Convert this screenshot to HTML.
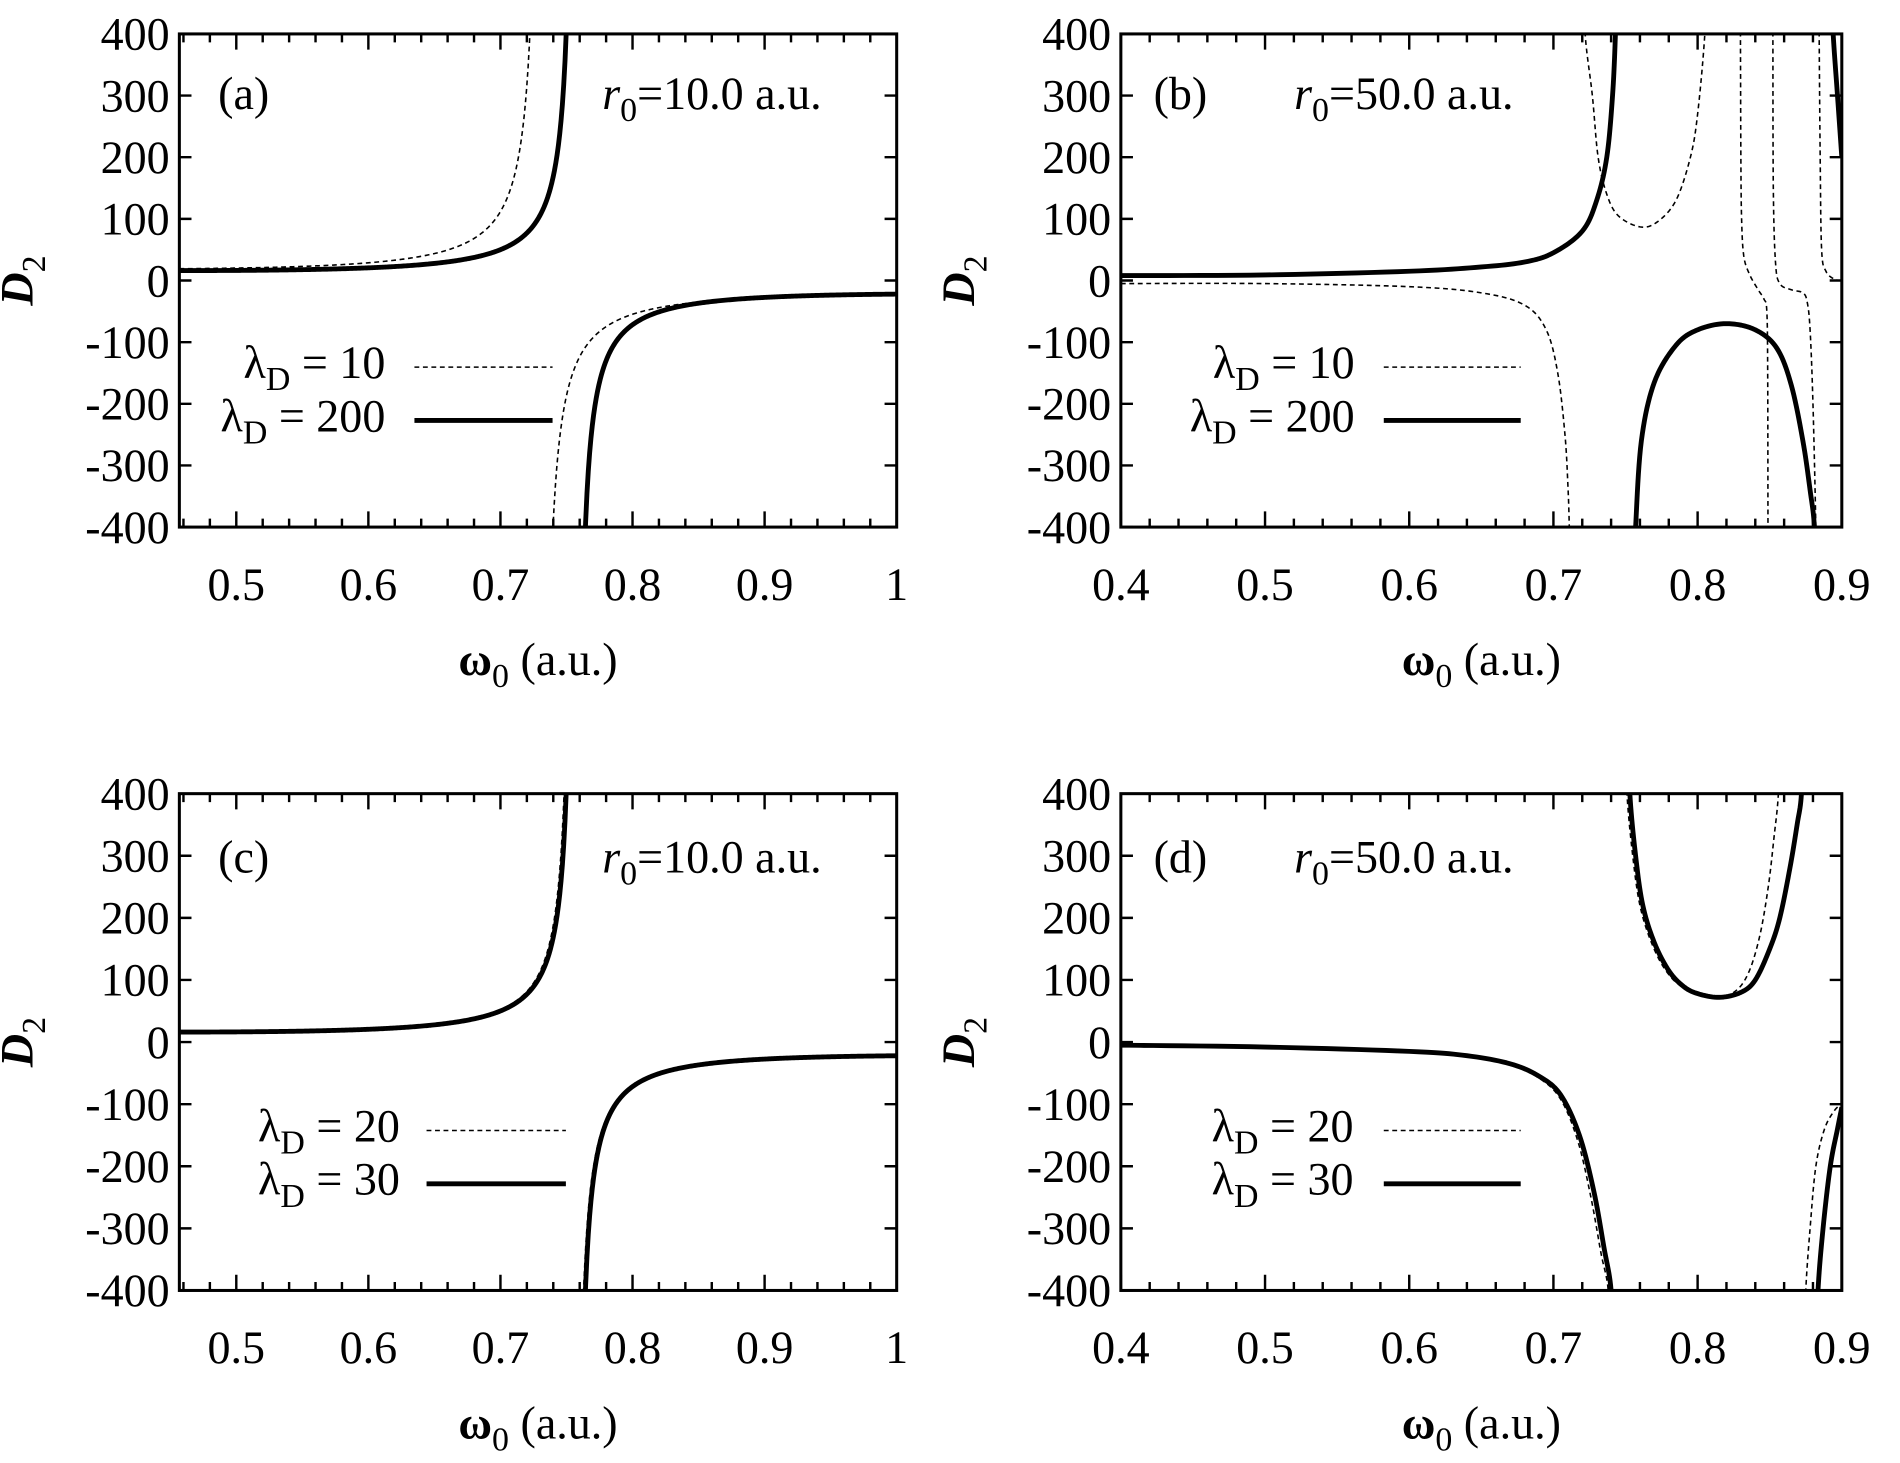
<!DOCTYPE html>
<html><head><meta charset="utf-8"><style>
html,body{margin:0;padding:0;background:#fff;}
svg{display:block;}
text{font-family:"Liberation Serif","Times New Roman",serif;fill:#000;}
</style></head><body>
<svg id="s" width="1900" height="1463" viewBox="0 0 1568 1207.4" xmlns="http://www.w3.org/2000/svg" font-family="Liberation Serif, serif">
<defs>
<clipPath id="ca"><rect x="148" y="28" width="592" height="407"/></clipPath>
<clipPath id="cb"><rect x="925" y="28" width="595" height="407"/></clipPath>
<clipPath id="cc"><rect x="148" y="655" width="592" height="410"/></clipPath>
<clipPath id="cd"><rect x="925" y="655" width="595" height="410"/></clipPath>
</defs>
<g id="g"></g>
</svg>
<script>
var NS="http://www.w3.org/2000/svg",G=document.getElementById('g');
var FS=38,SS=28;
function el(t,a,txt,par){var e=document.createElementNS(NS,t);for(var k in a)e.setAttribute(k,a[k]);if(txt!=null)e.textContent=txt;(par||G).appendChild(e);return e;}
var P={
 a:{L:148,R:740,T:28,B:435,x0:0.4569,x1:1,maj:[0.5,0.6,0.7,0.8,0.9,1],lab:['0.5','0.6','0.7','0.8','0.9','1'],clip:'ca'},
 b:{L:925,R:1520,T:28,B:435,x0:0.4,x1:0.9,maj:[0.4,0.5,0.6,0.7,0.8,0.9],lab:['0.4','0.5','0.6','0.7','0.8','0.9'],clip:'cb'},
 c:{L:148,R:740,T:655,B:1065,x0:0.4569,x1:1,maj:[0.5,0.6,0.7,0.8,0.9,1],lab:['0.5','0.6','0.7','0.8','0.9','1'],clip:'cc'},
 d:{L:925,R:1520,T:655,B:1065,x0:0.4,x1:0.9,maj:[0.4,0.5,0.6,0.7,0.8,0.9],lab:['0.4','0.5','0.6','0.7','0.8','0.9'],clip:'cd'}
};
function X(p,x){return p.L+(x-p.x0)/(p.x1-p.x0)*(p.R-p.L);}
function Y(p,y){return p.B-(y+400)/800*(p.B-p.T);}
function axes(p){
 var s='';
 for(var v=-400;v<=400;v+=100){var y=Y(p,v);s+='M'+p.L+' '+y+'h10M'+p.R+' '+y+'h-10';
  el('text',{x:p.L-8,y:y+13,'font-size':FS,'text-anchor':'end'},String(v));}
 for(var i=0;i<=60;i++){var xv=Math.round((0.4+i*0.02)*1000)/1000;if(xv<p.x0-1e-6||xv>p.x1+1e-6)continue;
  var x=X(p,xv);var mj=p.maj.some(function(m){return Math.abs(m-xv)<1e-6;});var l=mj?13:7;
  s+='M'+x+' '+p.B+'v-'+l+'M'+x+' '+p.T+'v'+l;}
 el('path',{d:s,stroke:'#000','stroke-width':2,fill:'none'});
 el('rect',{x:p.L,y:p.T,width:p.R-p.L,height:p.B-p.T,fill:'none',stroke:'#000','stroke-width':2.5});
 p.maj.forEach(function(m,i){el('text',{x:X(p,m),y:p.B+60,'font-size':FS,'text-anchor':'middle'},p.lab[i]);});
 var t=el('text',{x:(p.L+p.R)/2,y:p.B+122,'font-size':FS,'text-anchor':'middle'});
 el('tspan',{'font-weight':'bold'},'ω',t);el('tspan',{dy:10,'font-size':SS},'0',t);el('tspan',{dy:-10},' (a.u.)',t);
 var yl=p.L-121,yc=(p.T+p.B)/2;
 var t2=el('text',{x:0,y:0,'font-size':FS,'font-style':'italic','font-weight':'bold',transform:'translate('+yl+','+yc+') rotate(-90)','text-anchor':'middle'});
 el('tspan',{},'D',t2);el('tspan',{dy:10,'font-size':SS,'font-style':'normal','font-weight':'normal'},'2',t2);
}
function pathFromPts(p,pts){var s='';pts.forEach(function(q,i){s+=(i?'L':'M')+X(p,q[0]).toFixed(2)+' '+Y(p,Math.max(-600,Math.min(600,q[1]))).toFixed(2);});return s;}
function smooth(pts){var out=[];for(var i=0;i<pts.length-1;i++){var p0=pts[Math.max(0,i-1)],p1=pts[i],p2=pts[i+1],p3=pts[Math.min(pts.length-1,i+2)];
 for(var t=0;t<1;t+=0.1){var t2=t*t,t3=t2*t;var f=function(k){return 0.5*((2*p1[k])+(-p0[k]+p2[k])*t+(2*p0[k]-5*p1[k]+4*p2[k]-p3[k])*t2+(-p0[k]+3*p1[k]-3*p2[k]+p3[k])*t3);};out.push([f(0),f(1)]);}}
 out.push(pts[pts.length-1]);return out;}
function draw(p,segs,thick){var d='';segs.forEach(function(sg){d+=pathFromPts(p,sg);});
 var a={d:d,fill:'none',stroke:'#000','clip-path':'url(#'+p.clip+')','stroke-linejoin':'round'};
 if(thick){a['stroke-width']=4;}else{a['stroke-width']=1.3;a['stroke-dasharray']='4,3';}
 el('path',a);}
function f(x,k,pole){return 20.2-30.3*x+k/(pole-x);}
function model(p,k,pole){var A=[],B=[];
 for(var x=p.x0;x<pole-0.0015;x+=0.001)A.push([x,f(x,k,pole)]);
 for(var x=pole+0.0015;x<=p.x1+0.0005;x+=0.001)B.push([x,f(x,k,pole)]);
 var a2=[],b2=[];for(var e=0.0015;e>0.0001;e-=0.0002){a2.push([pole-e,f(pole-e,k,pole)]);b2.unshift([pole+e,f(pole+e,k,pole)]);}
 return [A.concat(a2),b2.concat(B)];}
['a','b','c','d'].forEach(function(k){axes(P[k]);});
draw(P.a,model(P.a,3.5,0.731),false);
draw(P.a,model(P.a,2.91,0.757),true);
draw(P.c,model(P.c,2.95,0.7555),false);
draw(P.c,model(P.c,2.91,0.757),true);
var bT=[[[0.4,8],[0.5,9],[0.6,15],[0.65,22],[0.68,30],[0.7,45],[0.72,80],[0.73,130],[0.737,200],[0.741,300],[0.743,400],[0.744,500]],
 [[0.7555,-500],[0.757,-400],[0.761,-260],[0.77,-165],[0.785,-105],[0.80,-80],[0.82,-70],[0.84,-80],[0.855,-110],[0.865,-170],[0.873,-260],[0.878,-340],[0.881,-400],[0.882,-500]],
 [[0.892,500],[0.894,400],[0.897,300],[0.9,200]]];
var bD=[[[0.4,-5],[0.5,-5],[0.6,-10],[0.65,-20],[0.68,-40],[0.695,-80],[0.703,-150],[0.708,-250],[0.71,-330],[0.711,-400],[0.7115,-500]],
 [[0.7215,500],[0.722,400],[0.727,300],[0.731,200],[0.737,140],[0.745,105],[0.76,87],[0.772,95],[0.785,130],[0.795,200],[0.8,270],[0.805,400],[0.806,500]],
 [[0.8295,500],[0.8297,400],[0.83,200],[0.8305,100],[0.832,40],[0.836,10],[0.842,-15],[0.846,-30],[0.848,-50],[0.8486,-150],[0.8488,-400],[0.849,-500]],
 [[0.852,500],[0.8522,400],[0.8525,150],[0.854,30],[0.857,-5],[0.865,-15],[0.873,-20],[0.876,-35],[0.878,-80],[0.88,-200],[0.882,-400],[0.8825,-500]],
 [[0.8842,500],[0.8843,400],[0.885,200],[0.886,50],[0.889,15],[0.895,2],[0.9,0]]];
draw(P.b,bD.map(smooth),false);draw(P.b,bT.map(smooth),true);
var dT=[[[0.4,-5],[0.5,-8],[0.6,-15],[0.64,-22],[0.67,-35],[0.69,-55],[0.705,-85],[0.718,-150],[0.728,-240],[0.735,-330],[0.740,-400],[0.741,-500]],
 [[0.752,500],[0.753,400],[0.757,300],[0.762,220],[0.77,160],[0.78,115],[0.79,90],[0.80,78],[0.815,72],[0.83,80],[0.84,100],[0.85,150],[0.857,200],[0.864,280],[0.869,350],[0.872,400],[0.873,500]],
 [[0.8825,-500],[0.8835,-400],[0.887,-300],[0.892,-200],[0.897,-140],[0.9,-105]]];
var dD=[[[0.4,-5],[0.5,-8],[0.6,-15],[0.64,-23],[0.67,-37],[0.69,-58],[0.705,-92],[0.717,-160],[0.726,-250],[0.733,-340],[0.738,-400],[0.739,-500]],
 [[0.750,500],[0.751,400],[0.755,300],[0.760,220],[0.768,160],[0.778,115],[0.79,88],[0.81,72],[0.825,80],[0.835,110],[0.843,170],[0.849,250],[0.853,330],[0.856,400],[0.857,500]],
 [[0.874,-500],[0.875,-400],[0.878,-300],[0.882,-200],[0.888,-140],[0.895,-110],[0.9,-100]]];
draw(P.d,dD.map(smooth),false);draw(P.d,dT.map(smooth),true);
function leg(p,tx,y,l1,l2,lx0,lx1){
 [[l1,y,false],[l2,y+44,true]].forEach(function(r){
  var t=el('text',{x:tx,y:r[1]+12,'font-size':FS,'text-anchor':'end'});
  el('tspan',{},'λ',t);el('tspan',{dy:10,'font-size':SS},'D',t);el('tspan',{dy:-10},' = '+r[0],t);
  var a={x1:lx0,x2:lx1,y1:r[1]+3,y2:r[1]+3,stroke:'#000'};
  if(r[2])a['stroke-width']=4;else{a['stroke-width']=1.3;a['stroke-dasharray']='4,3';}
  el('line',a);});}
leg(P.a,318,300,'10','200',342,456);
leg(P.b,1118,300,'10','200',1142,1255);
leg(P.c,330,930,'20','30',352,467);
leg(P.d,1117,930,'20','30',1142,1255);
function lab(x1,y,l,x2,r){
 el('text',{x:x1,y:y,'font-size':FS},l);
 var t=el('text',{x:x2,y:y,'font-size':FS});
 el('tspan',{'font-style':'italic'},'r',t);el('tspan',{dy:10,'font-size':SS},'0',t);el('tspan',{dy:-10},'='+r+' a.u.',t);}
lab(180,90,'(a)',497,'10.0');
lab(952,90,'(b)',1068,'50.0');
lab(180,720,'(c)',497,'10.0');
lab(952,720,'(d)',1068,'50.0');
</script>
</body></html>
